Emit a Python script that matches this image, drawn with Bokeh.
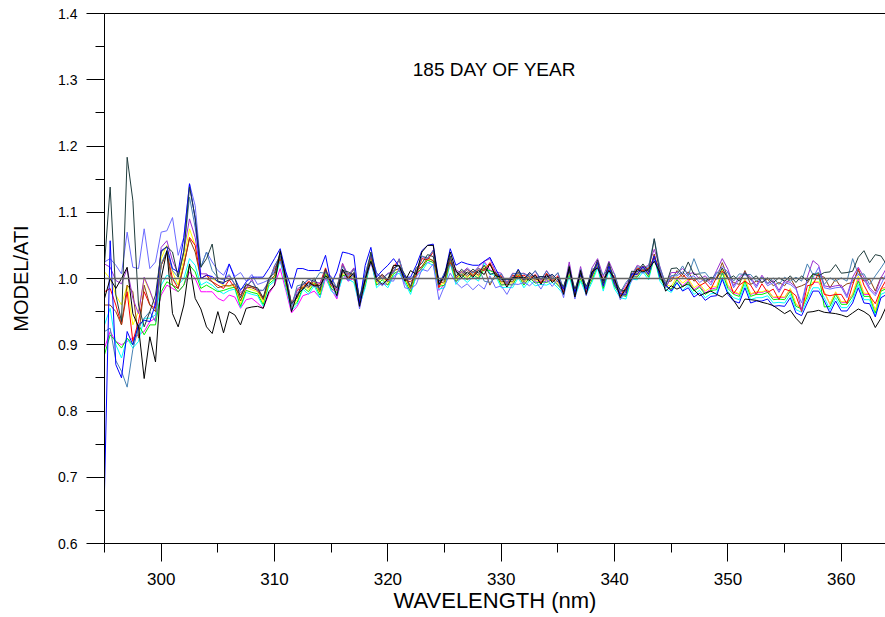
import numpy as np
from bokeh.plotting import figure
from bokeh.models import Range1d, FixedTicker, LinearAxis, Span, Label, PrintfTickFormatter
from bokeh.embed import file_html
from bokeh.resources import INLINE

# Wavelength grid (nm), 0.5 nm sampling
wavelength = np.arange(295.0, 364.01, 0.5)

# MODEL/ATI ratios, one list per run (rows of 5 nm)
black = [
    .970, 1.000, .985, 1.000, 1.017, .947, .927, .849, .912, .874,
    1.000, 1.042, .947, .927, .960, 1.022, .970, .954, .927, .917,
    .950, .918, .950, .945, .930, .955, .957, .958, .955, .980,
    .990, 1.042, 1.000, .950, .976, .984, .994, .989, .989, 1.004,
    .997, .974, 1.014, .999, 1.009, .958, .999, 1.026, .999, .991,
    .999, 1.020, 1.019, .996, 1.012, 1.006, 1.040, 1.050, 1.050, .991,
    1.004, 1.040, 1.012, 1.001, 1.010, 1.002, 1.012, 1.006, 1.022, 1.004,
    1.002, .987, 1.002, 1.001, 1.002, .997, 1.005, .991, 1.006, .994,
    1.002, .976, 1.018, .972, 1.012, .976, 1.010, 1.016, .997, 1.012,
    1.000, .971, .985, .999, 1.014, 1.010, 1.014, 1.026, 1.009, .981,
    .989, .984, .988, .992, .983, .974, .978, .981, .976, .972,
    .979, .967, .954, .969, .968, .967, .964, .962, .959, .953,
    .947, .952, .940, .931, .949, .950, .952, .949, .948, .947,
    .945, .942, .948, .954, .950, .944, .926, .940, .959,
]
darkslate = [
    1.022, 1.138, .975, .935, 1.183, 1.118, .960, .927, .950, .975,
    1.040, 1.048, 1.040, 1.002, 1.040, 1.138, 1.092, 1.017, 1.030, 1.052,
    .996, .994, .998, 1.001, .971, .992, .988, .986, .971, 1.001,
    1.008, 1.040, .998, .962, .972, .996, .988, 1.001, .983, 1.014,
    .993, .986, 1.012, 1.010, 1.005, .971, .998, 1.040, .998, 1.006,
    .998, 1.016, 1.020, 1.006, .988, 1.016, 1.023, 1.036, 1.033, .997,
    .998, 1.034, 1.003, 1.014, 1.006, 1.014, 1.008, 1.020, 1.006, 1.009,
    .998, .999, .998, 1.013, .998, 1.009, 1.001, 1.003, 1.002, 1.006,
    .998, .988, 1.014, .984, 1.008, .988, 1.006, 1.028, .993, 1.024,
    .996, .983, .981, 1.011, 1.010, 1.022, 1.010, 1.060, 1.006, .989,
    1.015, 1.016, 1.006, 1.025, 1.006, 1.007, .996, 1.002, .999, 1.016,
    .999, 1.004, .996, 1.009, .998, 1.004, .994, 1.001, .994, 1.001,
    .996, 1.004, .994, 1.004, .996, 1.007, 1.004, 1.009, 1.010, 1.021,
    1.008, 1.009, 1.011, 1.032, 1.042, 1.024, 1.036, 1.034, 1.021,
]
blue = [
    .680, 1.057, .870, .850, .920, .900, .930, .937, .935, .962,
    1.042, 1.048, 1.015, 1.010, 1.062, 1.143, 1.090, 1.000, 1.005, 1.003,
    .995, .992, 1.022, 1.000, .982, .995, 1.002, 1.002, 1.002, 1.015,
    1.030, 1.045, 1.010, .985, 1.015, 1.015, 1.012, 1.012, 1.012, 1.035,
    .992, 1.010, 1.040, 1.038, 1.035, .962, 1.020, 1.047, 1.002, 1.012,
    1.020, 1.030, 1.018, 1.002, 1.002, 1.020, 1.042, 1.050, 1.052, .995,
    1.005, 1.045, 1.020, 1.025, 1.022, 1.020, 1.020, 1.026, 1.032, 1.015,
    .998, .999, .999, 1.014, .998, 1.009, 1.001, 1.003, 1.002, 1.006,
    .998, .984, 1.014, .979, 1.006, .984, 1.004, 1.024, .988, 1.019,
    .991, .977, .976, 1.007, 1.006, 1.018, 1.006, 1.034, 1.002, .991,
    .981, .994, .981, .986, .972, .978, .967, .973, .974, .999,
    .976, .966, .963, .986, .963, .966, .966, .969, .958, .959,
    .958, .971, .948, .944, .963, .981, .981, .966, .948, .966,
    .951, .951, .963, .986, .963, .962, .942, .971, .976,
]
lightblue = [
    1.025, 1.030, 1.020, 1.007, 1.070, 1.017, 1.015, 1.075, 1.015, 1.025,
    1.070, 1.072, 1.092, 1.035, 1.062, 1.143, 1.110, 1.017, 1.040, 1.025,
    1.012, 1.005, 1.022, 1.003, 1.009, .996, 1.006, .991, .994, .998,
    1.012, 1.026, .999, .951, .979, .983, .992, .988, .986, 1.001,
    .994, .971, 1.014, .996, 1.007, .954, .997, 1.024, .997, .989,
    .997, .996, 1.016, .986, .984, .991, 1.014, 1.011, 1.022, .968,
    .989, 1.008, .994, .986, .992, .983, .991, .984, 1.004, .986,
    .989, .976, .992, .991, .994, .989, .997, .984, .999, .988,
    .999, .971, 1.016, .969, 1.010, .974, 1.008, 1.016, .996, 1.012,
    .999, .968, .982, .996, 1.012, 1.008, 1.012, 1.028, 1.012, .986,
    1.004, 1.004, 1.010, 1.002, 1.004, .994, 1.000, .990, 1.008, 1.018,
    1.010, .986, .999, 1.006, .999, .986, 1.002, .989, .994, .979,
    .994, .991, .984, .963, .999, 1.001, 1.017, .986, .984, .986,
    .987, .971, .999, 1.006, .999, .983, .974, .991, 1.009,
]
steelblue = [
    .920, .925, .876, .860, .836, .893, .925, .940, .950, .935,
    1.022, 1.042, 1.012, 1.002, 1.042, 1.123, 1.077, 1.017, 1.040, 1.012,
    1.001, .998, 1.006, .991, .984, .989, .996, .983, .982, .994,
    1.019, 1.034, 1.007, .958, .989, .991, .999, .996, 1.009, 1.008,
    1.002, .986, 1.019, 1.003, 1.014, .971, 1.007, 1.038, 1.009, .999,
    1.007, 1.008, 1.029, 1.001, .999, 1.008, 1.034, 1.031, 1.042, .991,
    1.009, 1.021, 1.009, 1.005, 1.014, 1.008, 1.016, .996, .994, 1.001,
    1.007, .991, 1.007, 1.008, 1.007, 1.002, 1.012, .999, 1.011, .999,
    1.009, .984, 1.019, .978, 1.014, .984, 1.014, 1.018, 1.006, 1.014,
    1.007, .979, .994, 1.004, 1.018, 1.014, 1.018, 1.060, 1.016, .993,
    1.004, 1.006, 1.019, 1.004, 1.030, 1.008, 1.009, .998, 1.009, 1.006,
    1.009, .996, 1.007, 1.006, 1.006, .996, 1.002, .993, 1.001, .991,
    1.002, .996, 1.002, .996, 1.022, 1.006, 1.009, .991, 1.001, .996,
    1.001, .996, 1.030, 1.006, 1.007, .991, 1.004, 1.016, 1.029,
]
purple = [
    1.022, 1.017, .997, .992, 1.015, .970, .947, 1.002, .982, .957,
    1.047, 1.057, 1.027, 1.007, 1.042, 1.090, 1.062, 1.007, 1.007, 1.000,
    1.001, .998, 1.004, .991, .979, .984, .999, .981, .982, .996,
    1.019, 1.034, 1.008, .958, .984, .990, .999, .995, .993, 1.010,
    1.003, .981, 1.023, 1.005, 1.016, .965, 1.008, 1.034, 1.008, 1.000,
    1.008, 1.010, 1.030, 1.000, .998, 1.010, 1.033, 1.030, 1.043, .990,
    1.008, 1.030, 1.013, 1.008, 1.016, 1.008, 1.018, 1.026, 1.030, 1.010,
    1.008, .993, 1.008, 1.007, 1.008, 1.003, 1.011, .997, 1.012, 1.000,
    1.008, .982, 1.025, .978, 1.018, .982, 1.016, 1.030, 1.003, 1.026,
    1.006, .977, .991, 1.005, 1.020, 1.016, 1.020, 1.044, 1.018, .991,
    1.009, 1.009, 1.015, 1.007, 1.009, .999, 1.004, .994, 1.012, 1.030,
    1.014, .989, 1.002, 1.009, 1.002, .989, 1.005, .992, .997, .982,
    .997, .994, .987, .952, 1.002, 1.027, 1.020, .989, .987, .989,
    .990, .974, 1.002, 1.017, 1.002, .986, .977, 1.001, 1.016,
]
brown = [
    .960, .960, .950, .930, .990, .980, .910, .990, .960, .950,
    1.020, 1.040, .990, .985, 1.020, 1.060, 1.040, 1.000, 1.000, .995,
    .986, .989, .989, .992, .966, .987, .986, .982, .968, .997,
    1.004, 1.034, .994, .961, .971, .992, .986, .997, .980, 1.012,
    .989, .983, 1.009, 1.008, 1.003, .969, .995, 1.034, .995, 1.003,
    .995, 1.012, 1.015, 1.003, .985, 1.012, 1.018, 1.031, 1.027, .993,
    .995, 1.030, 1.000, 1.011, 1.003, 1.011, 1.005, 1.016, .990, 1.006,
    .995, .996, .995, 1.010, .995, 1.006, .998, 1.000, .999, 1.003,
    .995, .986, 1.011, .981, 1.005, .985, 1.003, 1.024, .990, 1.020,
    .993, .981, .979, 1.008, 1.007, 1.019, 1.007, 1.037, 1.005, .996,
    .996, 1.012, 1.002, 1.010, .996, 1.002, .994, 1.000, 1.000, 1.024,
    1.001, .994, .991, 1.012, .991, .996, .994, .999, .989, .994,
    .989, 1.001, .986, .989, .993, 1.007, 1.004, 1.002, .986, .999,
    .986, .992, .994, 1.012, .996, .999, .981, 1.002, .999,
]
red = [
    .980, .985, .960, .930, .980, .905, .935, .980, .960, .955,
    1.020, 1.040, 1.000, .985, 1.020, 1.062, 1.050, 1.000, 1.005, .995,
    .990, .985, .998, .986, .975, .990, .988, .984, .970, .998,
    1.015, 1.030, 1.004, .962, .982, .986, .996, .990, .992, 1.016,
    .990, .986, 1.022, 1.000, 1.015, .970, .998, 1.036, .998, 1.006,
    .996, 1.018, 1.028, .998, .995, 1.004, 1.030, 1.028, 1.040, .986,
    1.008, 1.024, 1.010, 1.004, 1.014, 1.004, 1.015, 1.012, 1.024, 1.006,
    1.004, .990, 1.005, 1.003, 1.005, .999, 1.006, .993, 1.008, .996,
    1.004, .979, 1.020, .974, 1.014, .979, 1.012, 1.018, .999, 1.013,
    1.002, .973, .987, 1.001, 1.016, 1.012, 1.016, 1.031, 1.014, .987,
    1.001, 1.000, 1.006, .998, 1.000, .989, .994, .984, 1.002, 1.011,
    1.002, .977, .990, .996, .990, .976, .992, .979, .984, .968,
    .984, .981, .974, .950, .989, .991, 1.008, .976, .974, .976,
    .976, .962, .990, 1.015, .990, .974, .962, .984, .999,
]
yellow = [
    1.010, 1.000, .975, .960, .990, .930, .950, 1.000, .980, .960,
    1.030, 1.050, 1.010, .990, 1.030, 1.075, 1.050, 1.000, 1.005, 1.000,
    .995, .990, .988, .990, .962, .986, .983, .980, .964, .995,
    1.003, 1.034, .993, .956, .968, .991, .983, .996, .978, 1.010,
    .988, .981, 1.007, 1.006, 1.001, .966, .993, 1.035, .993, 1.001,
    .993, 1.011, 1.015, 1.001, .983, 1.011, 1.018, 1.030, 1.027, .990,
    .993, 1.030, .998, 1.009, 1.001, 1.009, 1.003, 1.018, 1.020, 1.011,
    .993, .994, .993, 1.008, .993, 1.004, .996, .998, .997, 1.001,
    .993, .983, 1.010, .979, 1.003, .983, 1.001, 1.023, .988, 1.019,
    .991, .978, .976, 1.006, 1.005, 1.017, 1.005, 1.035, 1.003, .991,
    .988, 1.003, .993, 1.000, .986, .992, .981, .987, .988, 1.014,
    .990, .981, .977, 1.000, .977, .980, .980, .983, .972, .973,
    .972, .985, .962, .954, .977, .995, .995, .980, .962, .980,
    .965, .965, .977, 1.004, .978, .977, .951, .985, .986,
]
green = [
    .885, .915, .905, .895, .910, .900, .930, .915, .930, .930,
    .980, .995, .990, .980, .990, 1.020, 1.010, .985, .990, .985,
    .980, .982, .985, .987, .958, .982, .979, .977, .961, .992,
    .999, 1.031, .990, .956, .964, .987, .980, .993, .975, 1.007,
    .985, .979, 1.005, 1.003, .999, .964, .990, 1.032, .990, .998,
    .990, 1.007, 1.012, .998, .980, 1.008, 1.015, 1.028, 1.024, .988,
    .990, 1.027, .995, 1.006, .998, 1.006, 1.000, 1.014, 1.012, 1.008,
    .990, .991, .990, 1.005, .990, 1.001, .993, .995, .994, .998,
    .990, .980, 1.007, .976, 1.000, .980, .998, 1.020, .985, 1.016,
    .988, .975, .973, 1.003, 1.002, 1.014, 1.002, 1.032, 1.000, .988,
    .984, .998, .987, .995, .981, .987, .976, .982, .983, 1.009,
    .985, .976, .973, .996, .973, .976, .976, .979, .968, .969,
    .968, .981, .958, .954, .973, 1.006, 1.008, .957, .958, .976,
    .961, .961, .973, .996, .973, .973, .948, .981, .985,
]
cyan = [
    .930, .955, .900, .880, .910, .895, .905, .940, .940, .945,
    .990, 1.005, 1.000, .990, 1.000, 1.030, 1.020, .990, .995, .990,
    .982, .977, .982, .984, .956, .979, .976, .974, .958, .989,
    .996, 1.028, .986, .952, .961, .984, .976, .989, .971, 1.004,
    .981, .974, 1.001, .999, .994, .959, .986, 1.029, .986, .994,
    .986, 1.004, 1.008, .994, .976, 1.004, 1.011, 1.024, 1.020, .984,
    .986, 1.024, .991, 1.002, .994, 1.002, .996, 1.024, 1.008, 1.004,
    .986, .987, .986, 1.001, .986, .997, .989, .991, .990, .994,
    .986, .976, 1.003, .972, .996, .976, .994, 1.016, .981, 1.012,
    .984, .971, .969, .999, .998, 1.010, .998, 1.032, .996, .984,
    .979, .993, .982, .990, .976, .982, .971, .977, .978, 1.002,
    .980, .971, .968, .991, .968, .971, .971, .974, .963, .964,
    .963, .976, .953, .949, .968, .986, .986, .971, .953, .971,
    .956, .956, .968, .991, .968, .968, .944, .976, .980,
]
magenta = [
    .895, .920, .905, .900, .905, .910, .915, .920, .935, .940,
    .975, .990, .985, .980, .990, 1.010, 1.000, .980, .980, .980,
    .970, .966, .975, .972, .955, .968, .970, .963, .955, .977,
    .990, 1.015, .982, .948, .958, .974, .977, .981, .971, 1.000,
    .984, .969, 1.006, .996, 1.000, .957, .991, 1.026, .991, .992,
    .991, 1.002, 1.013, .992, .981, 1.002, 1.018, 1.024, 1.027, .982,
    .991, 1.022, .996, 1.000, .999, 1.000, 1.001, 1.026, 1.013, 1.009,
    .991, .992, .991, 1.006, .991, 1.002, .994, .996, .995, .999,
    .991, .981, 1.008, .977, 1.001, .981, .999, 1.028, .986, 1.020,
    .989, .976, .974, 1.004, 1.003, 1.015, 1.003, 1.036, 1.001, .989,
    .983, .999, .989, .997, .983, .989, .978, .984, .986, 1.012,
    .988, .979, .976, .999, .976, .979, .979, .982, .971, .972,
    .971, .984, .961, .954, .976, .994, .994, .979, .961, .979,
    .964, .964, .976, .999, .976, .976, .951, .984, .988,
]

# Drawing order (first drawn sits underneath)
runs = [
    (magenta, "#ff00ff"),
    (cyan, "#00ffff"),
    (green, "#00ee00"),
    (yellow, "#ffff00"),
    (red, "#ff0000"),
    (brown, "#8b4513"),
    (purple, "#9b30d0"),
    (lightblue, "#6b6bff"),
    (steelblue, "#4682b4"),
    (blue, "#0000ff"),
    (darkslate, "#1f3c3c"),
    (black, "#000000"),
]

x_major = [300, 310, 320, 330, 340, 350, 360]
x_minor = [295, 305, 315, 325, 335, 345, 355, 365]
y_major = [0.6, 0.7, 0.8, 0.9, 1.0, 1.1, 1.2, 1.3, 1.4]
y_minor = [0.65, 0.75, 0.85, 0.95, 1.05, 1.15, 1.25, 1.35]

p = figure(width=885, height=617, output_backend="svg", toolbar_location=None,
           x_range=Range1d(295, 363.9), y_range=Range1d(0.6, 1.4),
           min_border_left=104, min_border_right=0, min_border_top=13,
           min_border_bottom=74)
p.outline_line_color = None
p.grid.visible = False
p.background_fill_color = "white"
p.border_fill_color = "white"

xax = p.xaxis[0]
xax.ticker = FixedTicker(ticks=x_major, minor_ticks=x_minor)
xax.major_tick_in = 0
xax.major_tick_out = 18
xax.minor_tick_in = 0
xax.minor_tick_out = 9
xax.major_label_standoff = 11
xax.major_label_text_font = "Liberation Sans"
xax.major_label_text_font_size = "17px"
xax.major_label_text_color = "black"
xax.axis_line_color = "black"
xax.major_tick_line_color = "black"
xax.minor_tick_line_color = "black"
xax.axis_label = "WAVELENGTH (nm)"
xax.axis_label_text_font = "Liberation Sans"
xax.axis_label_text_font_size = "22px"
xax.axis_label_text_font_style = "normal"
xax.axis_label_text_color = "black"
xax.axis_label_standoff = 0

yax = p.yaxis[0]
yax.ticker = FixedTicker(ticks=y_major, minor_ticks=y_minor)
yax.formatter = PrintfTickFormatter(format="%.1f")
yax.major_tick_in = 0
yax.major_tick_out = 18
yax.minor_tick_in = 0
yax.minor_tick_out = 9
yax.major_label_standoff = 9
yax.major_label_text_font = "Liberation Sans"
yax.major_label_text_font_size = "14px"
yax.major_label_text_color = "black"
yax.axis_line_color = "black"
yax.major_tick_line_color = "black"
yax.minor_tick_line_color = "black"
yax.axis_label = "MODEL/ATI"
yax.axis_label_text_font = "Liberation Sans"
yax.axis_label_text_font_size = "20px"
yax.axis_label_text_font_style = "normal"
yax.axis_label_text_color = "black"
yax.axis_label_standoff = 23

top = LinearAxis(ticker=FixedTicker(ticks=[]), axis_line_color="black",
                 major_tick_line_color=None, minor_tick_line_color=None,
                 major_label_text_font_size="0px")
p.add_layout(top, "above")

p.add_layout(Span(location=1.0, dimension="width", line_color="#666666", line_width=1.5))

for vals, color in runs:
    p.line(wavelength, vals, line_color=color, line_width=1)

p.add_layout(Label(x=329.4, y=1.316, text="185 DAY OF YEAR", text_align="center",
                   text_baseline="middle", text_font="Liberation Sans",
                   text_font_size="19px", text_color="black"))

open("out.html", "w").write(file_html(p, INLINE))
